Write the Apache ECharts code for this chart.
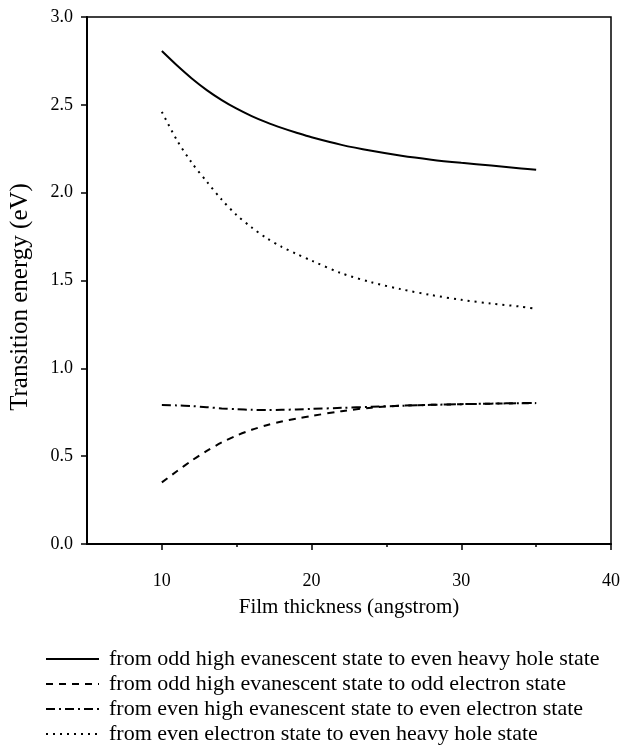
<!DOCTYPE html>
<html>
<head>
<meta charset="utf-8">
<script src="https://cdn.jsdelivr.net/npm/echarts@6/dist/echarts.min.js"></script>
<style>
html,body{margin:0;padding:0;background:#fff;}
#chart{width:623px;height:745px;}
</style>
</head>
<body>
<div id="chart"></div>
<script>
// ---- data ----
const thickness = [10, 11, 12, 13, 14, 15, 16, 17, 18, 19, 20, 22, 24, 26, 28, 30, 32, 34, 35];
const oddEvanToEvenHH = [2.806, 2.725, 2.650, 2.584, 2.527, 2.478, 2.436, 2.400, 2.369, 2.341, 2.315, 2.272, 2.238, 2.210, 2.188, 2.170, 2.154, 2.138, 2.130];
const oddEvanToOddElec = [0.351, 0.414, 0.475, 0.530, 0.578, 0.618, 0.650, 0.676, 0.697, 0.714, 0.729, 0.756, 0.776, 0.787, 0.792, 0.796, 0.799, 0.801, 0.802];
const evenEvanToEvenElec = [0.791, 0.789, 0.785, 0.779, 0.772, 0.767, 0.764, 0.763, 0.764, 0.766, 0.769, 0.775, 0.781, 0.787, 0.792, 0.796, 0.799, 0.802, 0.803];
const evenElecToEvenHH = [2.460, 2.300, 2.170, 2.063, 1.960, 1.872, 1.802, 1.741, 1.692, 1.651, 1.613, 1.541, 1.490, 1.450, 1.417, 1.390, 1.369, 1.351, 1.339];
const seriesNames = [
  'from odd high evanescent state to even heavy hole state',
  'from odd high evanescent state to odd electron state',
  'from even high evanescent state to even electron state',
  'from even electron state to even heavy hole state'
];
const xMajorTicks = [10, 20, 30, 40];
const xMinorTicks = [15, 25, 35];
const xAxisTitle = 'Film thickness (angstrom)';
const yAxisTitle = 'Transition energy (eV)';

const FONT = 'Liberation Serif';
const pairs = ys => thickness.map((x, i) => [x, ys[i]]);

const chart = echarts.init(document.getElementById('chart'), null, {renderer: 'canvas'});
const lineTypes = ['solid', [7, 6], [9, 4, 2, 4], [2, 5]];
const allVals = [oddEvanToEvenHH, oddEvanToOddElec, evenEvanToEvenElec, evenElecToEvenHH];

chart.setOption({
  backgroundColor: '#fff',
  animation: false,
  textStyle: {fontFamily: FONT, color: '#000'},
  grid: {left: 87, right: 11, top: 17, bottom: 201, show: true, borderColor: '#000', borderWidth: 1.5, backgroundColor: 'transparent'},
  legend: {
    orient: 'vertical', left: 45, top: 648, padding: 0,
    itemWidth: 53, itemHeight: 18, itemGap: 3,
    itemStyle: {opacity: 0},
    textStyle: {fontFamily: FONT, fontSize: 22, color: '#000', padding: [0, 0, 0, 5]},
    data: seriesNames
  },
  xAxis: [{
    type: 'value', min: 5, max: 40,
    name: xAxisTitle, nameLocation: 'middle', nameGap: 53,
    nameTextStyle: {fontFamily: FONT, fontSize: 21, color: '#000'},
    axisLine: {show: true, lineStyle: {color: '#000', width: 2}},
    axisTick: {show: true, length: 6, lineStyle: {width: 1.5}, customValues: xMajorTicks},
    axisLabel: {customValues: xMajorTicks, margin: 28, fontFamily: FONT, fontSize: 18, color: '#000'},
    splitLine: {show: false}
  }, {
    type: 'value', min: 5, max: 40, position: 'bottom',
    axisLine: {show: false},
    axisTick: {show: true, length: 3, lineStyle: {width: 1.5, color: '#000'}, customValues: xMinorTicks},
    axisLabel: {show: false},
    splitLine: {show: false}
  }],
  yAxis: {
    type: 'value', min: 0, max: 3, interval: 0.5,
    name: yAxisTitle, nameLocation: 'middle', nameGap: 54,
    nameTextStyle: {fontFamily: FONT, fontSize: 25, color: '#000', padding: [0, 33, 0, 0]},
    axisLine: {show: true, lineStyle: {color: '#000', width: 2}},
    axisTick: {show: true, length: 6, lineStyle: {width: 1.5}},
    axisLabel: {margin: 14, fontFamily: FONT, fontSize: 18, color: '#000', formatter: v => v.toFixed(1)},
    splitLine: {show: false}
  },
  series: seriesNames.map((name, i) => ({
    name, type: 'line', xAxisIndex: 0,
    data: pairs(allVals[i]),
    symbol: 'none', smooth: 0.3,
    lineStyle: {color: '#000', width: 2, type: lineTypes[i]},
    itemStyle: {color: '#000'}
  }))
});
</script>
</body>
</html>
